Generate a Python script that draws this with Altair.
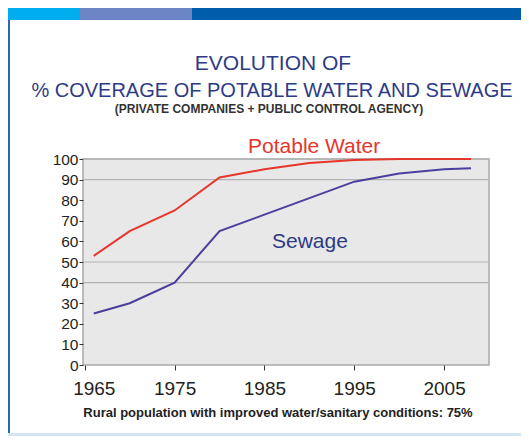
import altair as alt
import pandas as pd

# ---- data ----
years = [1966, 1970, 1975, 1980, 1985, 1990, 1995, 2000, 2005, 2008]
potable_water = [53, 65, 75, 91, 95, 98, 99.5, 100, 100, 100]
sewage = [25, 30, 40, 65, 73, 81, 89, 93, 95, 95.5]
series_names = ["Potable Water", "Sewage"]
x_ticks = [1965, 1975, 1985, 1995, 2005]
y_ticks = [0, 10, 20, 30, 40, 50, 60, 70, 80, 90, 100]
grid_values = [100, 90, 50, 40]

title_line1 = "EVOLUTION OF"
title_line2 = "% COVERAGE OF POTABLE WATER AND SEWAGE"
subtitle = "(PRIVATE COMPANIES + PUBLIC CONTROL AGENCY)"
footer = "Rural population with improved water/sanitary conditions: 75%"

RED = "#e6352b"
BLUE = "#4a3f9c"
NAVY = "#2d3b86"
REG = "Liberation Sans, Arial, sans-serif"

df = pd.DataFrame({
    "year": years * 2,
    "value": potable_water + sewage,
    "series": [series_names[0]] * len(years) + [series_names[1]] * len(years),
})

xscale = alt.Scale(domain=[1964.8, 2010], nice=False, zero=False)
yscale = alt.Scale(domain=[0, 100], nice=False)

y_axis = alt.Axis(values=y_ticks, title=None, grid=False, domain=False,
                  tickSize=4, tickColor="#333", labelFontSize=15.5, labelFont=REG,
                  labelColor="#231f20", labelPadding=1, labelOverlap=False,
                  labelFlush=False)

lines = alt.Chart(df).mark_line(strokeWidth=2).encode(
    x=alt.X("year:Q", scale=xscale,
            axis=alt.Axis(values=x_ticks, format="d", title=None, grid=False, domain=False,
                          tickSize=5, tickColor="#333", labelFontSize=19, labelFont=REG,
                          labelColor="#231f20", labelPadding=9, labelOverlap=False,
                          labelOffset={"condition": {"test": "datum.value == 1965", "value": 9}, "value": 0})),
    y=alt.Y("value:Q", scale=yscale, axis=y_axis),
    color=alt.Color("series:N", scale=alt.Scale(domain=series_names, range=[RED, BLUE]), legend=None),
    detail="series:N",
)

grid = alt.Chart(pd.DataFrame({"value": grid_values})).mark_rule(color="#b3b3b3", strokeWidth=1.2).encode(
    y=alt.Y("value:Q", scale=yscale, axis=y_axis)
)

def rect(x1, x2, y1, y2, color):
    return alt.Chart(pd.DataFrame({"a": [0]})).mark_rect(color=color).encode(
        x=alt.value(x1), x2=alt.value(x2), y=alt.value(y1), y2=alt.value(y2))

def text(s, x, y, size, color, font, weight="normal", align="center"):
    return alt.Chart(pd.DataFrame({"t": [s]})).mark_text(
        fontSize=size, color=color, font=font, fontWeight=weight, align=align, baseline="alphabetic"
    ).encode(text="t:N", x=alt.value(x), y=alt.value(y))

decor = [
    rect(-75, -3, -151, -139, "#00adef"),
    rect(-3, 109, -151, -139, "#6a84c4"),
    rect(109, 438, -151, -139, "#005dab"),
    rect(-75, -73, -139, 277, "#2a68b5"),
    rect(-75, 438, 274, 277, "#d3e4f2"),
]

texts = [
    text(title_line1, 190, -89, 21, NAVY, REG),
    text(title_line2, 189, -62, 20, NAVY, REG),
    text(subtitle, 186, -46, 12, "#333333", REG, "bold"),
    text(series_names[0], 165, -6, 21, RED, REG, align="left"),
    text(series_names[1], 189, 89, 21, NAVY, REG, align="left"),
    text(footer, 195, 258, 13, "#222222", REG, "bold"),
]

chart = alt.layer(grid, lines, *decor, *texts).properties(
    width=406, height=206,
    padding={"left": 75, "top": 151, "right": 32, "bottom": 71},
    autosize=alt.AutoSizeParams(type="none"),
    background="white",
).configure_view(fill="#e8e8e8", stroke="#a8a8a8", strokeWidth=1.5)

chart.save("out.html", embed_options={"renderer": "svg", "actions": False})
